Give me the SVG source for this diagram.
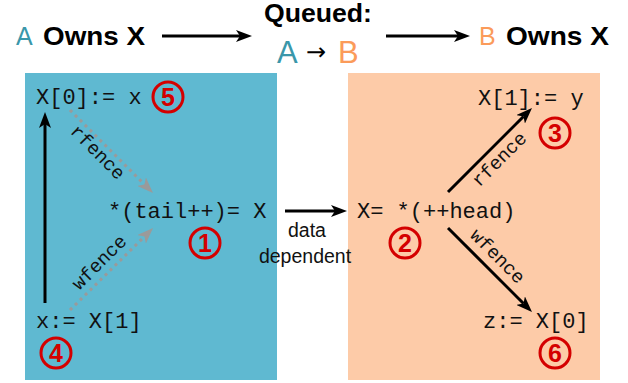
<svg xmlns="http://www.w3.org/2000/svg" width="628" height="383" viewBox="0 0 628 383">
  <style>
    .hdr { font-family: "Liberation Sans", Arial, sans-serif; font-weight: bold; font-size: 25px; fill: #000; }
    .hA { font-family: "Liberation Sans", Arial, sans-serif; font-size: 25px; fill: #3a97aa; }
    .hB { font-family: "Liberation Sans", Arial, sans-serif; font-size: 25px; fill: #fb9b5a; }
    .big { font-size: 31px; }
    .code { font-family: "Liberation Mono", "DejaVu Sans Mono", monospace; font-size: 22px; fill: #111; }
    .lbl { font-family: "Liberation Mono", "DejaVu Sans Mono", monospace; font-size: 19px; fill: #111; }
    .sans { font-family: "Liberation Sans", Arial, sans-serif; font-size: 19.5px; fill: #111; }
    .num circle { fill: none; stroke: #d40000; stroke-width: 3; }
    .num text { font-family: "Liberation Sans", Arial, sans-serif; font-weight: bold; font-size: 25px; fill: #d40000; text-anchor: middle; }
    .arr { stroke: #000; stroke-width: 3; fill: none; }
    .dot { stroke: #9a9a9a; stroke-width: 3; stroke-dasharray: 3 4; fill: none; }
  </style>
  <defs>
    <marker id="ah" viewBox="0 0 16 12" refX="4" refY="6" markerWidth="16" markerHeight="12" markerUnits="userSpaceOnUse" orient="auto">
      <path d="M0,0 L16,6 L0,12 L4,6 z" fill="#000"/>
    </marker>
    <marker id="ahg" viewBox="0 0 16 12" refX="4" refY="6" markerWidth="16" markerHeight="12" markerUnits="userSpaceOnUse" orient="auto">
      <path d="M0,0 L16,6 L0,12 L4,6 z" fill="#9a9a9a"/>
    </marker>
  </defs>

  <rect id="boxA" x="25" y="73" width="252" height="307" fill="#5fb9d1"/>
  <rect id="boxB" x="348" y="73" width="252" height="307" fill="#fdcba8"/>

  <g id="header">
    <text class="hA" x="16" y="45">A</text>
    <text class="hdr" x="43" y="45" textLength="102" lengthAdjust="spacingAndGlyphs">Owns X</text>
    <text class="hdr" x="264" y="22" textLength="108" lengthAdjust="spacingAndGlyphs">Queued:</text>
    <text class="hA big" x="277" y="63">A</text>
    <text x="306" y="60" style="font-family: 'DejaVu Sans', sans-serif; font-size: 24px; fill: #000;">→</text>
    <text class="hB big" x="338" y="63">B</text>
    <text class="hB" x="479" y="45">B</text>
    <text class="hdr" x="506" y="45" textLength="103" lengthAdjust="spacingAndGlyphs">Owns X</text>
  </g>

  <g id="connectors">
    <line class="arr" x1="162" y1="36" x2="240" y2="36" marker-end="url(#ah)"/>
    <line class="arr" x1="386" y1="36" x2="458" y2="36" marker-end="url(#ah)"/>
    <line class="arr" x1="45" y1="303" x2="45" y2="124" marker-end="url(#ah)"/>
    <line class="dot" x1="70" y1="110" x2="144.5" y2="184.5" marker-end="url(#ahg)"/>
    <line class="dot" x1="70" y1="310" x2="144.5" y2="236.5" marker-end="url(#ahg)"/>
    <line class="arr" x1="285" y1="211" x2="335" y2="211" marker-end="url(#ah)"/>
    <line class="arr" x1="448" y1="192" x2="523.5" y2="116.5" marker-end="url(#ah)"/>
    <line class="arr" x1="448" y1="228" x2="523.5" y2="303.5" marker-end="url(#ah)"/>
    <text class="lbl" transform="translate(97,153) rotate(45)" text-anchor="middle" dominant-baseline="central">rfence</text>
    <text class="lbl" transform="translate(100,263) rotate(-45)" text-anchor="middle" dominant-baseline="central">wfence</text>
    <text class="lbl" transform="translate(500,160) rotate(-45)" text-anchor="middle" dominant-baseline="central">rfence</text>
    <text class="lbl" transform="translate(497,257) rotate(45)" text-anchor="middle" dominant-baseline="central">wfence</text>
    <text class="sans" x="307" y="237" text-anchor="middle">data</text>
    <text class="sans" x="305" y="263" text-anchor="middle">dependent</text>
  </g>

  <g id="n5">
    <text class="code" x="36" y="104">X[0]:= x</text>
    <g class="num"><circle cx="168" cy="97" r="15"/><text x="168" y="106">5</text></g>
  </g>
  <g id="n1">
    <text class="code" x="108" y="218">*(tail++)= X</text>
    <g class="num"><circle cx="205" cy="243" r="15"/><text x="205" y="252">1</text></g>
  </g>
  <g id="n4">
    <text class="code" x="36" y="328">x:= X[1]</text>
    <g class="num"><circle cx="56" cy="353" r="15"/><text x="56" y="362">4</text></g>
  </g>
  <g id="n2">
    <text class="code" x="357" y="218">X= *(++head)</text>
    <g class="num"><circle cx="405" cy="243" r="15"/><text x="405" y="252">2</text></g>
  </g>
  <g id="n3">
    <text class="code" x="478" y="105">X[1]:= y</text>
    <g class="num"><circle cx="555" cy="133" r="15"/><text x="555" y="142">3</text></g>
  </g>
  <g id="n6">
    <text class="code" x="483" y="328">z:= X[0]</text>
    <g class="num"><circle cx="555" cy="353" r="15"/><text x="555" y="362">6</text></g>
  </g>
</svg>
